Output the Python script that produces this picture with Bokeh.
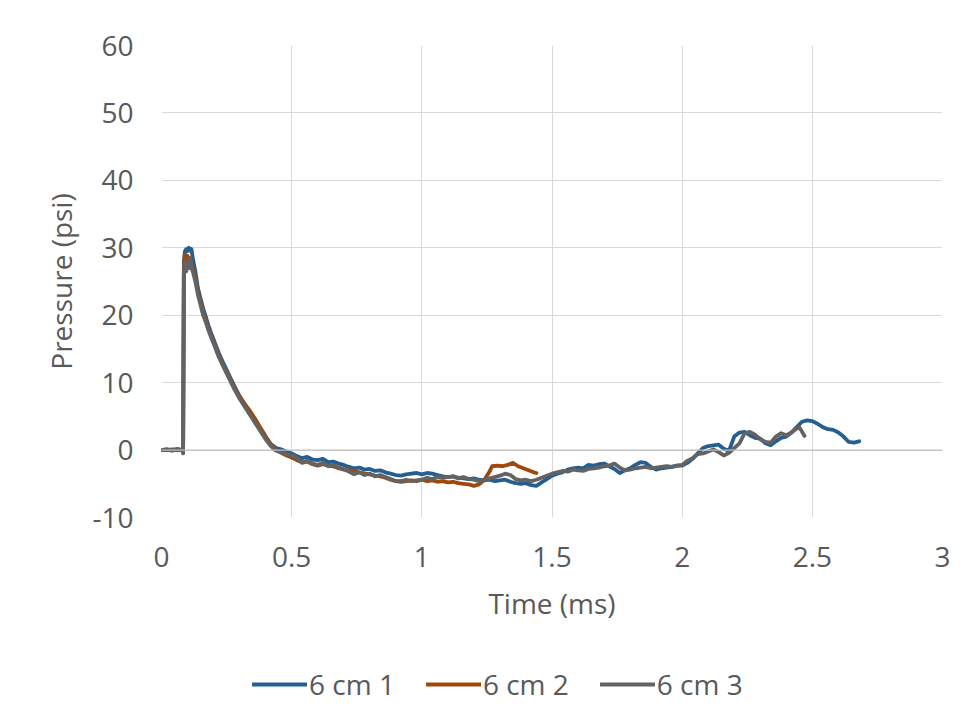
from bokeh.plotting import figure
from bokeh.layouts import column
from bokeh.models import (Legend, LegendItem, Span, FixedTicker, CustomJSTickFormatter, Range1d)
from bokeh.embed import file_html
from bokeh.resources import INLINE

# ---------------- data ----------------
t1 = [0, 0.02, 0.04, 0.06, 0.08, 0.083, 0.086, 0.09, 0.095, 0.10, 0.105, 0.11, 0.115, 0.12, 0.13, 0.14,
      0.15, 0.16, 0.17, 0.18, 0.19, 0.20, 0.22, 0.24, 0.26, 0.28, 0.30, 0.32, 0.34, 0.36, 0.38, 0.40,
      0.42, 0.44, 0.46, 0.48, 0.50, 0.52, 0.54, 0.56, 0.58, 0.60, 0.62, 0.64, 0.66, 0.68, 0.70, 0.72,
      0.74, 0.76, 0.78, 0.80, 0.82, 0.84, 0.86, 0.88, 0.90, 0.92, 0.94, 0.96, 0.98, 1.00, 1.02, 1.04,
      1.06, 1.08, 1.10, 1.12, 1.14, 1.16, 1.18, 1.20, 1.22, 1.24, 1.26, 1.28, 1.30, 1.32, 1.34, 1.36,
      1.38, 1.40, 1.42, 1.44, 1.46, 1.48, 1.50, 1.52, 1.54, 1.56, 1.58, 1.60, 1.62, 1.64, 1.66, 1.68,
      1.70, 1.72, 1.74, 1.76, 1.78, 1.80, 1.82, 1.84, 1.86, 1.88, 1.90, 1.92, 1.94, 1.96, 1.98, 2.00,
      2.02, 2.04, 2.06, 2.08, 2.10, 2.12, 2.14, 2.16, 2.18, 2.20, 2.22, 2.24, 2.26, 2.28, 2.30, 2.32,
      2.34, 2.36, 2.38, 2.40, 2.42, 2.44, 2.46, 2.48, 2.50, 2.52, 2.54, 2.56, 2.58, 2.60, 2.62, 2.64,
      2.66, 2.68]
p1 = [0, 0.1, -0.1, 0.1, 0, -0.3, 28, 29.5, 29.8, 29.5, 30, 29.6, 29.8, 28.5, 26.5, 24,
      22.5, 21, 19.8, 18.5, 17.4, 16.4, 14.4, 12.7, 11.1, 9.5, 8.0, 6.8, 5.5, 4.3, 3.2, 2.0,
      0.9, 0.3, 0.1, -0.2, -0.5, -0.9, -1.2, -1.0, -1.4, -1.5, -1.3, -1.8, -1.7, -2.0, -2.2, -2.5,
      -2.7, -2.6, -2.9, -2.8, -3.1, -3.0, -3.3, -3.5, -3.7, -3.8, -3.6, -3.5, -3.4, -3.6, -3.4, -3.5,
      -3.7, -3.9, -4.0, -3.9, -4.1, -4.2, -4.3, -4.2, -4.4, -4.5, -4.4, -4.6, -4.5, -4.4, -4.7, -4.9,
      -5.0, -4.9, -5.2, -5.3, -4.8, -4.3, -3.8, -3.5, -3.3, -2.9, -2.7, -2.6, -2.7, -2.2, -2.3, -2.1,
      -2.0, -2.4, -2.8, -3.4, -3.0, -2.7, -2.2, -1.8, -1.9, -2.5, -2.9, -2.7, -2.6, -2.5, -2.3, -2.3,
      -1.9, -1.3, -0.5, 0.3, 0.6, 0.7, 0.8, 0.2, -0.1, 2.0, 2.6, 2.7, 2.2, 1.8, 1.7, 1.0,
      0.7, 1.3, 1.8, 2.0, 2.6, 3.4, 4.2, 4.4, 4.3, 3.9, 3.4, 3.1, 3.0, 2.6, 2.0, 1.2,
      1.1, 1.3]

t2 = [0, 0.02, 0.04, 0.06, 0.08, 0.083, 0.086, 0.09, 0.095, 0.10, 0.105, 0.11, 0.115, 0.12, 0.13, 0.14,
      0.15, 0.16, 0.17, 0.18, 0.19, 0.20, 0.22, 0.24, 0.26, 0.28, 0.30, 0.32, 0.34, 0.36, 0.38, 0.40,
      0.42, 0.44, 0.46, 0.48, 0.50, 0.52, 0.54, 0.56, 0.58, 0.60, 0.62, 0.64, 0.66, 0.68, 0.70, 0.72,
      0.74, 0.76, 0.78, 0.80, 0.82, 0.84, 0.86, 0.88, 0.90, 0.92, 0.94, 0.96, 0.98, 1.00, 1.02, 1.04,
      1.06, 1.08, 1.10, 1.12, 1.14, 1.16, 1.18, 1.20, 1.22, 1.24, 1.26, 1.27, 1.29, 1.31, 1.33, 1.35,
      1.37, 1.39, 1.41, 1.43, 1.44]
p2 = [0, 0, 0.1, 0, 0, -0.4, 27.5, 29, 28, 28.8, 28, 28.5, 27.5, 27, 25.5, 23.5,
      22, 20.3, 19.2, 18, 17, 16, 14, 12.3, 10.8, 9.2, 7.9, 6.8, 5.8, 4.6, 3.3, 2.0,
      0.8, 0.0, -0.4, -0.8, -1.1, -1.5, -1.8, -1.7, -2.1, -2.3, -2.1, -2.3, -2.4, -2.7, -2.9, -3.0,
      -3.1, -3.3, -3.5, -3.6, -3.8, -3.9, -4.1, -4.4, -4.6, -4.7, -4.6, -4.5, -4.6, -4.4, -4.6, -4.5,
      -4.7, -4.6, -4.8, -4.7, -4.9, -5.0, -5.1, -5.3, -5.1, -4.4, -3.2, -2.4, -2.3, -2.4, -2.2, -1.9,
      -2.4, -2.7, -3.0, -3.3, -3.4]

t3 = [0, 0.02, 0.04, 0.06, 0.08, 0.083, 0.086, 0.09, 0.095, 0.10, 0.105, 0.11, 0.115, 0.12, 0.13, 0.14,
      0.15, 0.16, 0.17, 0.18, 0.19, 0.20, 0.22, 0.24, 0.26, 0.28, 0.30, 0.32, 0.34, 0.36, 0.38, 0.40,
      0.42, 0.44, 0.46, 0.48, 0.50, 0.52, 0.54, 0.56, 0.58, 0.60, 0.62, 0.64, 0.66, 0.68, 0.70, 0.72,
      0.74, 0.76, 0.78, 0.80, 0.82, 0.84, 0.86, 0.88, 0.90, 0.92, 0.94, 0.96, 0.98, 1.00, 1.02, 1.04,
      1.06, 1.08, 1.10, 1.12, 1.14, 1.16, 1.18, 1.20, 1.22, 1.24, 1.26, 1.28, 1.30, 1.32, 1.34, 1.36,
      1.38, 1.40, 1.42, 1.44, 1.46, 1.48, 1.50, 1.52, 1.54, 1.56, 1.58, 1.60, 1.62, 1.64, 1.66, 1.68,
      1.70, 1.72, 1.74, 1.76, 1.78, 1.80, 1.82, 1.84, 1.86, 1.88, 1.90, 1.92, 1.94, 1.96, 1.98, 2.00,
      2.02, 2.04, 2.06, 2.08, 2.10, 2.12, 2.14, 2.16, 2.18, 2.20, 2.22, 2.24, 2.26, 2.28, 2.30, 2.32,
      2.34, 2.36, 2.38, 2.40, 2.42, 2.44, 2.45, 2.47]
p3 = [0, 0.1, 0, 0.2, 0, -0.5, 27, 28, 26.5, 27.5, 27, 28.5, 27, 26.5, 25, 23,
      21.5, 20, 19, 17.8, 16.8, 15.8, 13.8, 12.2, 10.6, 9, 7.6, 6.4, 5.2, 4.0, 2.8, 1.6,
      0.6, -0.1, -0.3, -0.6, -0.8, -1.2, -1.9, -1.6, -2.0, -2.2, -1.9, -2.4, -2.2, -2.6, -2.8, -3.2,
      -3.6, -3.3, -3.7, -3.5, -3.9, -3.7, -4.0, -4.3, -4.6, -4.6, -4.4, -4.6, -4.5, -4.4, -4.1, -4.3,
      -4.0, -4.1, -4.0, -3.9, -4.2, -4.0, -4.3, -4.4, -4.6, -4.4, -4.2, -4.0, -3.8, -3.5, -3.7, -4.3,
      -4.5, -4.4, -4.6, -4.4, -4.1, -3.8, -3.5, -3.3, -3.1, -3.2, -2.9, -3.0, -3.1, -2.8, -2.7, -2.6,
      -2.4, -2.3, -2.0, -2.6, -3.0, -2.9, -2.7, -2.6, -2.5, -2.7, -2.6, -2.5, -2.4, -2.5, -2.3, -2.2,
      -1.6, -1.2, -0.6, -0.5, -0.2, 0.1, -0.3, -0.8, -0.4, 0.3, 1.0, 2.5, 2.7, 2.3, 1.6, 1.2,
      1.1, 2.0, 2.5, 2.2, 2.6, 3.2, 3.4, 2.1]

series_t = [t1, t2, t3]
series_p = [p1, p2, p3]
series_names = ["6 cm 1", "6 cm 2", "6 cm 3"]
series_colors = ["#255E91", "#9E480E", "#636363"]
x_ticks = [0, 0.5, 1, 1.5, 2, 2.5, 3]
y_ticks = [-10, 0, 10, 20, 30, 40, 50, 60]

FONT = "Open Sans"
TXT = "#595959"
FS = "28px"
LW = 3.8

# ---------------- main chart ----------------
p = figure(width=956, height=627, output_backend="svg", toolbar_location=None,
           x_range=Range1d(0, 3), y_range=Range1d(-10, 60),
           min_border_left=161, min_border_right=14, min_border_top=45, min_border_bottom=110)
p.frame_width = 781
p.frame_height = 472
p.background_fill_color = "white"
p.border_fill_color = "white"
p.outline_line_color = None

p.xaxis.ticker = FixedTicker(ticks=x_ticks)
p.yaxis.ticker = FixedTicker(ticks=y_ticks)
fmt = "return tick.toString();"
p.xaxis.formatter = CustomJSTickFormatter(code=fmt)
p.yaxis.formatter = CustomJSTickFormatter(code=fmt)

for ax in (p.xaxis[0], p.yaxis[0]):
    ax.axis_line_color = None
    ax.major_tick_line_color = None
    ax.minor_tick_line_color = None
    ax.major_tick_out = 0
    ax.major_tick_in = 0
    ax.major_label_text_font = FONT
    ax.major_label_text_font_size = FS
    ax.major_label_text_color = TXT
    ax.axis_label_text_font = FONT
    ax.axis_label_text_font_size = FS
    ax.axis_label_text_color = TXT
    ax.axis_label_text_font_style = "normal"

p.xaxis.axis_label = "Time (ms)"
p.yaxis.axis_label = "Pressure (psi)"
p.xaxis.major_label_standoff = 29
p.xaxis.axis_label_standoff = 14
p.yaxis.major_label_standoff = 28
p.yaxis.axis_label_standoff = 9

p.xgrid.ticker = FixedTicker(ticks=x_ticks)
p.ygrid.ticker = FixedTicker(ticks=y_ticks)
p.xgrid.grid_line_color = "#d9d9d9"
p.ygrid.grid_line_color = "#d9d9d9"
p.xgrid.grid_line_width = 1
p.ygrid.grid_line_width = 1

p.add_layout(Span(location=0, dimension="width", line_color="#bfbfbf", line_width=1.3))

for t, v, c in zip(series_t, series_p, series_colors):
    p.line(t, v, line_color=c, line_width=LW, line_join="round", line_cap="round")

# ---------------- legend strip below the chart ----------------
lg = figure(width=956, height=84, output_backend="svg", toolbar_location=None,
            x_range=Range1d(100, 101), y_range=Range1d(100, 101),
            x_axis_location=None, y_axis_location=None, min_border=0)
lg.grid.visible = False
lg.outline_line_color = None
lg.background_fill_color = "white"
lg.border_fill_color = "white"

items = []
for t, v, c, n in zip(series_t, series_p, series_colors, series_names):
    r = lg.line(t, v, line_color=c, line_width=LW, line_cap="round")
    items.append(LegendItem(label=n, renderers=[r]))

legend = Legend(items=items, orientation="horizontal", location=(91, 8),
                padding=0, margin=0, spacing=31, glyph_width=55, glyph_height=20,
                label_standoff=2, label_text_font=FONT, label_text_font_size=FS,
                label_text_color=TXT, border_line_color=None, background_fill_alpha=0)
lg.add_layout(legend, "center")

layout = column(p, lg, spacing=0)
open("out.html", "w").write(file_html(layout, INLINE))
